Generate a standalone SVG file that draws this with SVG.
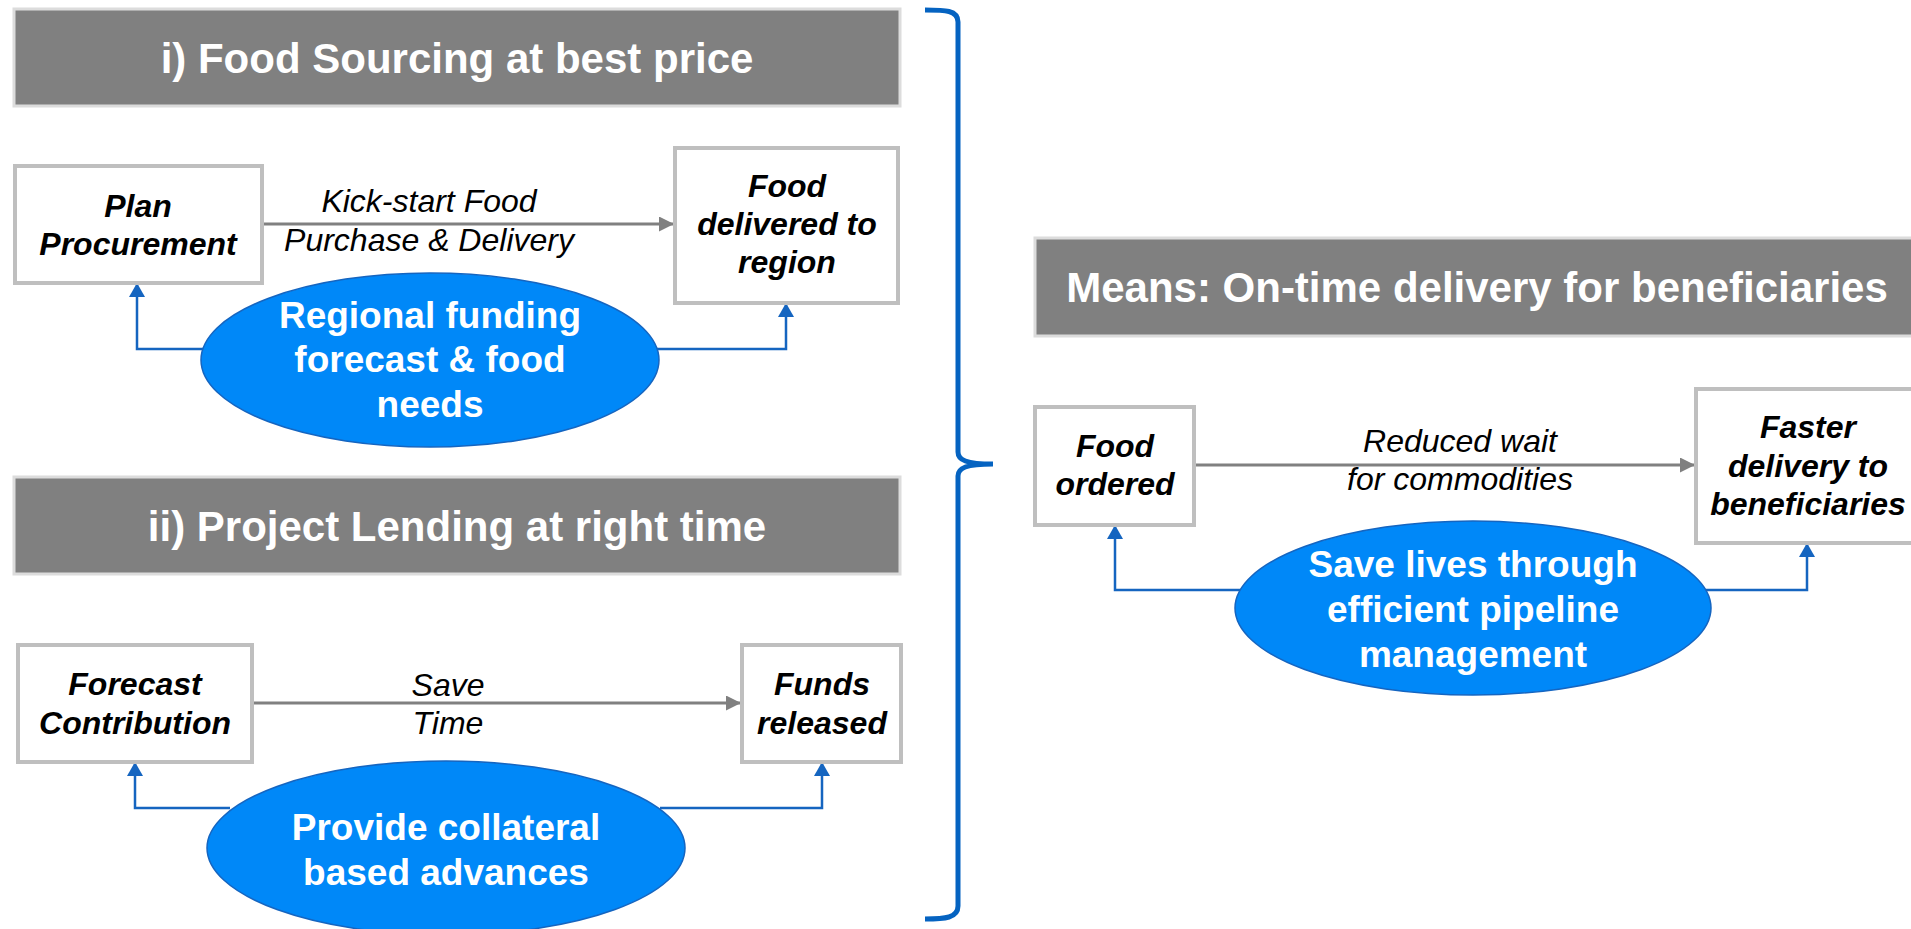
<svg xmlns="http://www.w3.org/2000/svg" width="1911" height="929" viewBox="0 0 1911 929">
<style>
.hdr{fill:#808080;stroke:#dcdcdc;stroke-width:3}
.hdrt{font-family:"Liberation Sans",Arial,sans-serif;font-weight:bold;font-size:42px;fill:#ffffff;text-anchor:middle}
.box{fill:#ffffff;stroke:#bfbfbf;stroke-width:4}
.nt{font-family:"Liberation Sans",Arial,sans-serif;font-weight:bold;font-style:italic;font-size:32px;fill:#000000;text-anchor:middle}
.lbl{font-family:"Liberation Sans",Arial,sans-serif;font-style:italic;font-size:32px;fill:#000000;text-anchor:middle}
.ell{fill:#0088f8;stroke:#1565c0;stroke-width:1.5}
.et{font-family:"Liberation Sans",Arial,sans-serif;font-weight:bold;font-size:37px;fill:#ffffff;text-anchor:middle}
.ga{fill:none;stroke:#808080;stroke-width:3;marker-end:url(#gArrow)}
.ba{fill:none;stroke:#1565c0;stroke-width:2.5;marker-end:url(#bArrow)}
.brace{fill:none;stroke:#0563c1;stroke-width:5;stroke-linecap:butt}
</style>
<defs>
<marker id="gArrow" markerUnits="userSpaceOnUse" markerWidth="16" markerHeight="16" refX="15" refY="7.5" orient="auto">
<path d="M0,0 L15,7.5 L0,15 z" fill="#808080"/>
</marker>
<marker id="bArrow" markerUnits="userSpaceOnUse" markerWidth="16" markerHeight="16" refX="14" refY="8" orient="auto">
<path d="M0,0 L14,8 L0,16 z" fill="#1565c0"/>
</marker>
</defs>
<rect width="1911" height="929" fill="#ffffff"/>

<g id="header1"><rect class="hdr" x="14" y="9" width="886" height="97"/><text class="hdrt" x="457" y="73">i) Food Sourcing at best price</text></g>
<g id="header2"><rect class="hdr" x="14" y="477" width="886" height="97"/><text class="hdrt" x="457" y="541">ii) Project Lending at right time</text></g>
<g id="header3"><rect class="hdr" x="1035" y="238" width="890" height="98"/><text class="hdrt" x="1477" y="302">Means: On-time delivery for beneficiaries</text></g>

<g id="connectors">
<line class="ga" x1="262" y1="224" x2="674" y2="224"/>
<line class="ga" x1="252" y1="703" x2="741" y2="703"/>
<line class="ga" x1="1195" y1="465" x2="1695" y2="465"/>
<polyline class="ba" points="220,349 137,349 137,283"/>
<polyline class="ba" points="640,349 786,349 786,303"/>
<polyline class="ba" points="230,808 135,808 135,762"/>
<polyline class="ba" points="660,808 822,808 822,762"/>
<polyline class="ba" points="1260,590 1115,590 1115,525"/>
<polyline class="ba" points="1690,590 1807,590 1807,543"/>
<path class="brace" d="M925,10 C945,10 958,10 958,22 L958,452 C958,460 966,464 993,464 C966,464 958,468 958,476 L958,906 C958,918 945,919 925,919"/>
</g>

<g id="plan-procurement"><rect class="box" x="15" y="166" width="247" height="117"/>
<text class="nt" x="138" y="217">Plan</text><text class="nt" x="138" y="255">Procurement</text></g>
<g id="food-delivered"><rect class="box" x="675" y="148" width="223" height="155"/>
<text class="nt" x="787" y="197">Food</text><text class="nt" x="787" y="235">delivered to</text><text class="nt" x="787" y="273">region</text></g>
<g id="label-kickstart"><text class="lbl" x="429" y="212">Kick-start Food</text><text class="lbl" x="429" y="251">Purchase &amp; Delivery</text></g>
<g id="regional-funding"><ellipse class="ell" cx="430" cy="360" rx="229" ry="87"/>
<text class="et" x="430" y="328">Regional funding</text><text class="et" x="430" y="372">forecast &amp; food</text><text class="et" x="430" y="417">needs</text></g>

<g id="forecast-contribution"><rect class="box" x="18" y="645" width="234" height="117"/>
<text class="nt" x="135" y="695">Forecast</text><text class="nt" x="135" y="734">Contribution</text></g>
<g id="funds-released"><rect class="box" x="742" y="645" width="159" height="117"/>
<text class="nt" x="822" y="695">Funds</text><text class="nt" x="822" y="734">released</text></g>
<g id="label-save-time"><text class="lbl" x="448" y="696">Save</text><text class="lbl" x="448" y="734">Time</text></g>
<g id="collateral"><ellipse class="ell" cx="446" cy="848" rx="239" ry="87"/>
<text class="et" x="446" y="840">Provide collateral</text><text class="et" x="446" y="885">based advances</text></g>

<g id="food-ordered"><rect class="box" x="1035" y="407" width="159" height="118"/>
<text class="nt" x="1115" y="457">Food</text><text class="nt" x="1115" y="495">ordered</text></g>
<g id="faster-delivery"><rect class="box" x="1696" y="389" width="240" height="154"/>
<text class="nt" x="1808" y="438">Faster</text><text class="nt" x="1808" y="477">delivery to</text><text class="nt" x="1808" y="515">beneficiaries</text></g>
<g id="label-reduced-wait"><text class="lbl" x="1460" y="452">Reduced wait</text><text class="lbl" x="1460" y="490">for commodities</text></g>
<g id="save-lives"><ellipse class="ell" cx="1473" cy="608" rx="238" ry="87"/>
<text class="et" x="1473" y="577">Save lives through</text><text class="et" x="1473" y="622">efficient pipeline</text><text class="et" x="1473" y="667">management</text></g>
</svg>
